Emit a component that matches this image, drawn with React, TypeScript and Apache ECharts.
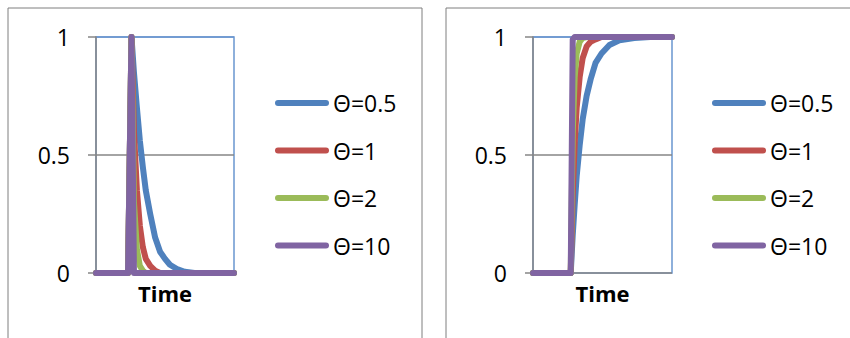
import React, { useEffect, useRef } from "react";
import * as echarts from "echarts";

// Left panel: impulse response
const timeLeft = [0, 6.5, 7.2, 7.7, 8.3, 8.9, 9.5, 10.1, 11, 12, 13, 14, 15, 16.6, 18, 20, 28];
const leftTheta05 = [0, 0, 1, 0.85, 0.7, 0.56, 0.45, 0.35, 0.25, 0.15, 0.09, 0.06, 0.035, 0.015, 0.005, 0, 0];
const leftTheta1 = [0, 0, 1, 0.6, 0.35, 0.2, 0.11, 0.06, 0.03, 0.01, 0, 0, 0, 0, 0, 0, 0];
const leftTheta2 = [0, 0, 1, 0.3, 0.1, 0.03, 0.01, 0, 0, 0, 0, 0, 0, 0, 0, 0, 0];
const leftTheta10 = [0, 0, 1, 0, 0, 0, 0, 0, 0, 0, 0, 0, 0, 0, 0, 0, 0];

// Right panel: step response
const timeRight = [0, 7.6, 8.0, 8.4, 8.8, 9.4, 10.0, 10.8, 11.6, 12.6, 13.8, 15.4, 17.4, 20.4, 23.6, 28];
const rightTheta05 = [0, 0, 0.16, 0.29, 0.41, 0.54, 0.65, 0.75, 0.82, 0.89, 0.93, 0.966, 0.986, 0.996, 1, 1];
const rightTheta1 = [0, 0, 0.33, 0.55, 0.7, 0.83, 0.91, 0.96, 0.98, 0.99, 1, 1, 1, 1, 1, 1];
const rightTheta2 = [0, 0, 0.59, 0.83, 0.93, 0.98, 0.995, 1, 1, 1, 1, 1, 1, 1, 1, 1];
const rightTheta10 = [0, 0, 0.99, 1, 1, 1, 1, 1, 1, 1, 1, 1, 1, 1, 1, 1];

const seriesNames = ["Θ=0.5", "Θ=1", "Θ=2", "Θ=10"];
const seriesColors = ["#4F81BD", "#C0504D", "#9BBB59", "#8064A2"];
const yTicks = [0, 0.5, 1];
const xTitle = "Time";

const FONT = "'Open Sans', 'Noto Sans', sans-serif";

export default function App() {
  const ref = useRef<HTMLDivElement>(null);
  useEffect(() => {
    if (!ref.current) return;
    const chart = echarts.init(ref.current, null, { renderer: "svg" });
    const leftData = [leftTheta05, leftTheta1, leftTheta2, leftTheta10];
    const rightData = [rightTheta05, rightTheta1, rightTheta2, rightTheta10];
    const mkSeries = (vals: number[][], times: number[], idx: number) =>
      vals.map((v, i) => ({
        type: "line" as const,
        name: seriesNames[i],
        xAxisIndex: idx,
        yAxisIndex: idx,
        data: v.map((y, k) => [times[k], y]),
        showSymbol: false,
        symbol: "none",
        color: seriesColors[i],
        lineStyle: { width: 6, color: seriesColors[i], cap: "round", join: "round" },
        clip: false,
        z: 3 + i,
      }));
    const yAxis = (gi: number) => ({
      type: "value" as const,
      gridIndex: gi,
      min: yTicks[0],
      max: yTicks[yTicks.length - 1],
      interval: 0.5,
      axisLine: { show: true, lineStyle: { color: "#868686", width: 1.5 } },
      axisTick: { show: true, length: 8, lineStyle: { color: "#868686", width: 1.5 } },
      axisLabel: { margin: 26, fontSize: 23, fontFamily: FONT, color: "#000" },
      splitLine: { show: true, lineStyle: { color: ["#868686", "#868686", "#6a96cf"], width: 1.5 } },
    });
    const xAxis = (gi: number) => ({
      type: "value" as const,
      gridIndex: gi,
      min: 0,
      max: 28,
      axisLine: { show: false },
      axisTick: { show: false },
      axisLabel: { show: false },
      splitLine: { show: false },
      name: xTitle,
      nameLocation: "middle" as const,
      nameGap: 9,
      nameTextStyle: { fontSize: 22, fontWeight: "bold", fontFamily: FONT, color: "#000" },
    });
    const pill = "path://M3,0 H51 A3,3 0 0 1 51,6 H3 A3,3 0 0 1 3,0 Z";
    const legend = (left: number) => ({
      orient: "vertical" as const,
      left,
      top: 91.5,
      padding: 0,
      itemWidth: 54,
      itemHeight: 6,
      itemGap: 24.5,
      icon: pill,
      data: seriesNames,
      textStyle: { fontSize: 23, fontFamily: FONT, color: "#000", padding: [0, 0, 0, -1] },
    });
    chart.setOption({
      animation: false,
      backgroundColor: "#fff",
      grid: [
        { left: 96, top: 37, width: 138, height: 236, show: true, borderColor: "#6a96cf", borderWidth: 1.5, backgroundColor: "transparent" },
        { left: 533, top: 37, width: 139, height: 236, show: true, borderColor: "#6a96cf", borderWidth: 1.5, backgroundColor: "transparent" },
      ],
      xAxis: [xAxis(0), xAxis(1)],
      yAxis: [yAxis(0), yAxis(1)],
      legend: [legend(275), legend(712)],
      series: [...mkSeries(leftData, timeLeft, 0), ...mkSeries(rightData, timeRight, 1)],
      graphic: [
        { type: "rect", shape: { x: 8, y: 8, width: 414, height: 340 }, style: { fill: "none", stroke: "#7f7f7f", lineWidth: 1 }, silent: true },
        { type: "rect", shape: { x: 446, y: 8, width: 420, height: 340 }, style: { fill: "none", stroke: "#7f7f7f", lineWidth: 1 }, silent: true },
      ],
    });
    return () => chart.dispose();
  }, []);
  return (
    <div
      ref={ref}
      style={{ position: "fixed", left: 0, top: 0, width: 850, height: 338 }}
    />
  );
}
